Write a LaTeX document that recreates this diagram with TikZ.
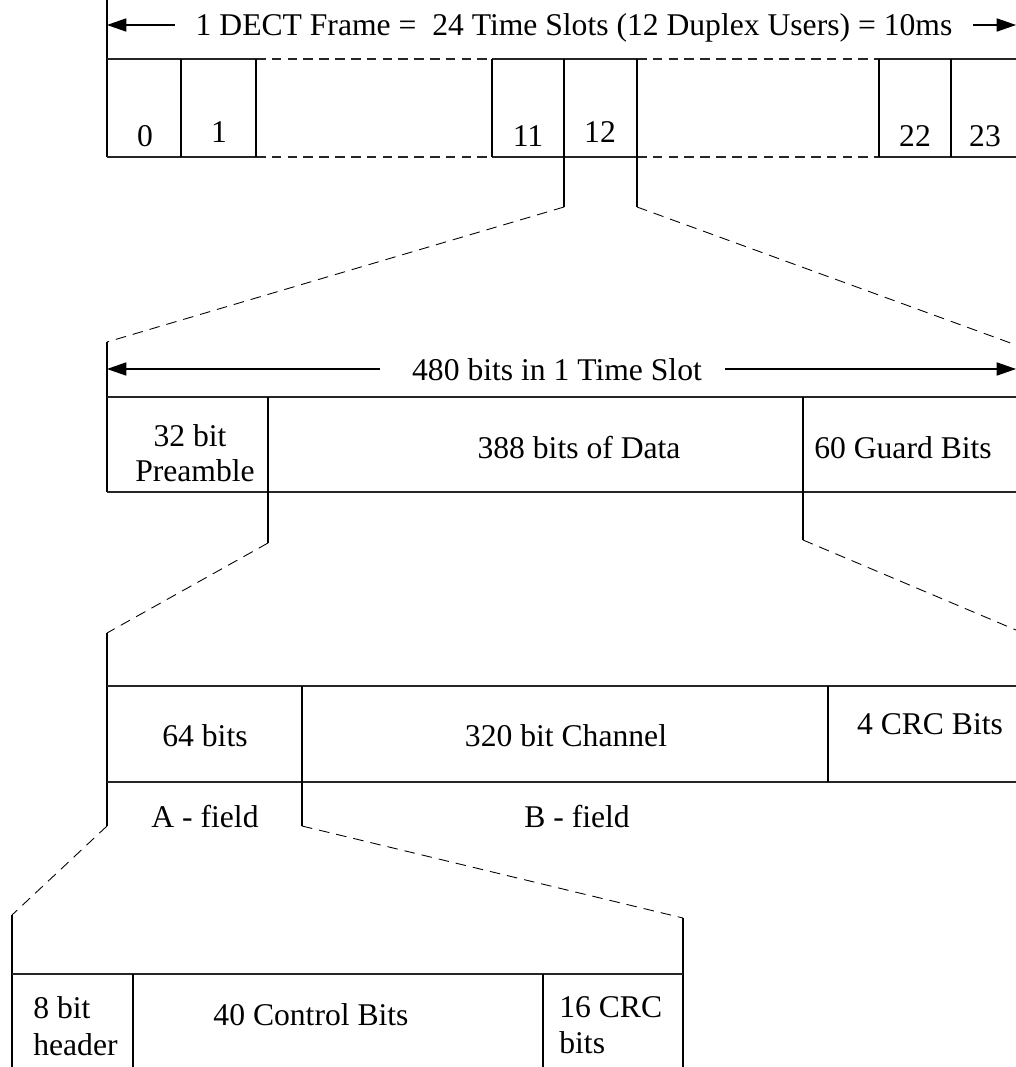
\documentclass[tikz,border=0pt]{standalone}
\usepackage{fontspec}
\setmainfont{Liberation Serif}
\usetikzlibrary{arrows.meta}

\tikzset{
  lbl/.style={font=\fontsize{18}{21.5}\selectfont, inner sep=0pt, anchor=base},
  lblw/.style={lbl, anchor=base west},
  rowline/.style={line width=0.9pt, black!85},
  gapline/.style={rowline, dash pattern=on 5.5pt off 3.5pt},
  cellline/.style={line width=0.6pt},
  zoomline/.style={line width=0.5pt, dash pattern=on 6pt off 4pt},
  span/.style={line width=0.6pt, ->}
}

\begin{document}
\begin{tikzpicture}[x=0.02cm, y=-0.02cm, >={Triangle[length=11pt,width=7.5pt]}]

    \useasboundingbox (0,0) rectangle (1016,1067);

    % DECT frame: 24 time slots
    \draw[cellline] (107,0) -- (107,157);
    \coordinate (fa0) at (107,25);
    \coordinate (fa1) at (175,25);
    \coordinate (fb0) at (973,25);
    \coordinate (fb1) at (1016,25);
    \draw[span] (fa1) -- (fa0);
    \draw[span] (fb0) -- (fb1);
    \node[lbl] (frame) at (574,36) {1 DECT Frame =\ \ 24 Time Slots (12 Duplex Users) = 10ms};

    \foreach \y in {59,157} {
        \draw[rowline] (107,\y) -- (256,\y);
        \draw[gapline] (256,\y) -- (492,\y);
        \draw[rowline] (492,\y) -- (637,\y);
        \draw[gapline] (637,\y) -- (879,\y);
        \draw[rowline] (879,\y) -- (1016,\y);
    }
    \foreach \x in {181,256,492,879,951}
        \draw[cellline] (\x,59) -- (\x,157);
    \draw[cellline] (564,59) -- (564,207) coordinate (s12a);
    \draw[cellline] (637,59) -- (637,207) coordinate (s12b);

    \node[lbl] (s0) at (145,147) {0};
    \node[lbl] (s1) at (219,143) {1};
    \node[lbl] (s11) at (528,147) {11};
    \node[lbl] (s12) at (600,143) {12};
    \node[lbl] (s22) at (915,147) {22};
    \node[lbl] (s23) at (985,147) {23};

    % zoom into one time slot
    \coordinate (slotL) at (107,342);
    \coordinate (slotR) at (1016,345);
    \draw[zoomline] (s12a) -- (slotL);
    \draw[zoomline] (s12b) -- (slotR);

    % Time slot: 480 bits
    \draw[cellline] (slotL) -- (107,492);
    \coordinate (sa0) at (107,369);
    \coordinate (sa1) at (380,369);
    \coordinate (sb0) at (725,369);
    \coordinate (sb1) at (1016,369);
    \draw[span] (sa1) -- (sa0);
    \draw[span] (sb0) -- (sb1);
    \node[lbl] (slot) at (557,380) {480 bits in 1 Time Slot};

    \draw[rowline] (107,397) -- (1016,397);
    \draw[rowline] (107,492) -- (1016,492);
    \draw[cellline] (268,397) -- (268,543) coordinate (dataL);
    \draw[cellline] (803,397) -- (803,540) coordinate (dataR);

    \node[lbl] (pre1) at (190,446) {32 bit};
    \node[lbl] (pre2) at (195,481) {Preamble};
    \node[lbl] (data) at (579,458) {388 bits of Data};
    \node[lbl] (guard) at (903,458) {60 Guard Bits};

    % zoom into the data part
    \coordinate (burstL) at (107,633);
    \coordinate (burstR) at (1016,630);
    \draw[zoomline] (dataL) -- (burstL);
    \draw[zoomline] (dataR) -- (burstR);

    % Data: A-field and B-field
    \draw[cellline] (burstL) -- (107,826) coordinate (afL);
    \draw[rowline] (107,686) -- (1016,686);
    \draw[rowline] (107,782) -- (1016,782);
    \draw[cellline] (302,686) -- (302,826) coordinate (afR);
    \draw[cellline] (828,686) -- (828,782);

    \node[lbl] (abits) at (205,746) {64 bits};
    \node[lbl] (chan) at (566,746) {320 bit Channel};
    \node[lbl] (crc4) at (930,734) {4 CRC Bits};
    \node[lbl] (afield) at (205,827) {A - field};
    \node[lbl] (bfield) at (577,827) {B - field};

    % zoom into the A-field
    \coordinate (aL) at (12,915);
    \coordinate (aR) at (683,918);
    \draw[zoomline] (afL) -- (aL);
    \draw[zoomline] (afR) -- (aR);

    % A-field: 64 bits
    \draw[cellline] (aL) -- (12,1067);
    \draw[cellline] (aR) -- (683,1067);
    \draw[rowline] (12,974) -- (683,974);
    \draw[cellline] (133,974) -- (133,1067);
    \draw[cellline] (543,974) -- (543,1067);

    \node[lblw] (hdr1) at (33,1018) {8 bit};
    \node[lblw] (hdr2) at (33,1055) {header};
    \node[lbl] (ctrl) at (311,1025) {40 Control Bits};
    \node[lblw] (crc1) at (559,1017) {16 CRC};
    \node[lblw] (crc2) at (559,1053) {bits};

\end{tikzpicture}
\end{document}
